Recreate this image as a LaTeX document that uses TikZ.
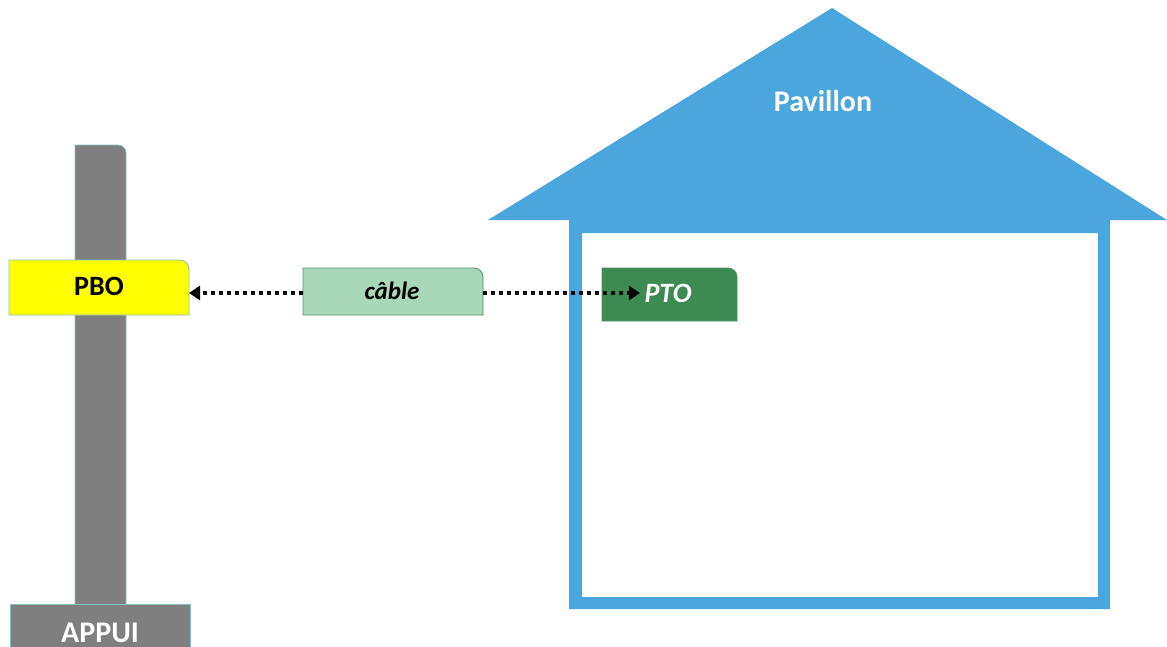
\documentclass[tikz,border=0pt]{standalone}
\usepackage{fontspec}
\setmainfont{Carlito}
\usetikzlibrary{arrows.meta}
\definecolor{poleg}{HTML}{7F7F7F}
\definecolor{edgec}{HTML}{8CBFC0}
\definecolor{pboy}{HTML}{FFFF00}
\definecolor{cablec}{HTML}{A9D8B8}
\definecolor{cableedge}{HTML}{4E8F63}
\definecolor{ptoc}{HTML}{3D8A52}
\definecolor{houseb}{HTML}{4BA6DE}
\tikzset{
  lbl/.style={inner sep=0pt},
  link/.style={line width=4pt, dash pattern=on 4pt off 4pt, -{Triangle[length=11pt,width=14pt]}},
}
\begin{document}
\begin{tikzpicture}[x=1pt,y=-1pt]
\useasboundingbox (0,0) rectangle (1167,646);
% pole
\draw[fill=poleg, draw=edgec, line width=0.8pt]
  (75,605) -- (75,145) [rounded corners=8pt] -- (126,145) [sharp corners] -- (126,605) -- cycle;
% base
\draw[fill=poleg, draw=edgec, line width=0.8pt] (10,650) -- (10,604) -- (190,604) -- (190,650);
\node[lbl, text=white, font=\bfseries\fontsize{30}{34}\selectfont] (appui) at (100,633) {APPUI};
% PBO
\draw[fill=pboy, draw=edgec, line width=0.8pt]
  (9,315) -- (9,260) [rounded corners=9pt] -- (189,260) [sharp corners] -- (189,315) -- cycle;
\node[lbl, font=\bfseries\fontsize{28}{32}\selectfont] (pbo) at (99,286) {PBO};
\coordinate (pboR) at (189,293);
% house
\fill[houseb] (488,220) -- (832,8) -- (1167,220) -- cycle;
\fill[houseb, even odd rule] (569,219) rectangle (1110,609) (582,233) rectangle (1098,597);
\node[lbl, text=white, font=\bfseries\fontsize{30}{34}\selectfont] (pav) at (823,101) {Pavillon};
% cable
\draw[fill=cablec, draw=cableedge, line width=0.8pt]
  (303,315) -- (303,268) [rounded corners=9pt] -- (483,268) [sharp corners] -- (483,315) -- cycle;
\node[lbl, font=\bfseries\itshape\fontsize{25}{28}\selectfont] (cable) at (392,291) {câble};
\coordinate (cableL) at (303,293);
\coordinate (cableR) at (483,293);
% PTO
\draw[fill=ptoc, draw=cableedge, line width=0.8pt]
  (602,321) -- (602,268) [rounded corners=9pt] -- (737,268) [sharp corners] -- (737,321) -- cycle;
\node[lbl, text=white, font=\bfseries\itshape\fontsize{28}{32}\selectfont] (pto) at (668,293) {PTO};
\coordinate (ptoTip) at (640,293);
% links
\draw[link] (cableL) -- (pboR);
\draw[link] (cableR) -- (ptoTip);
\end{tikzpicture}
\end{document}
